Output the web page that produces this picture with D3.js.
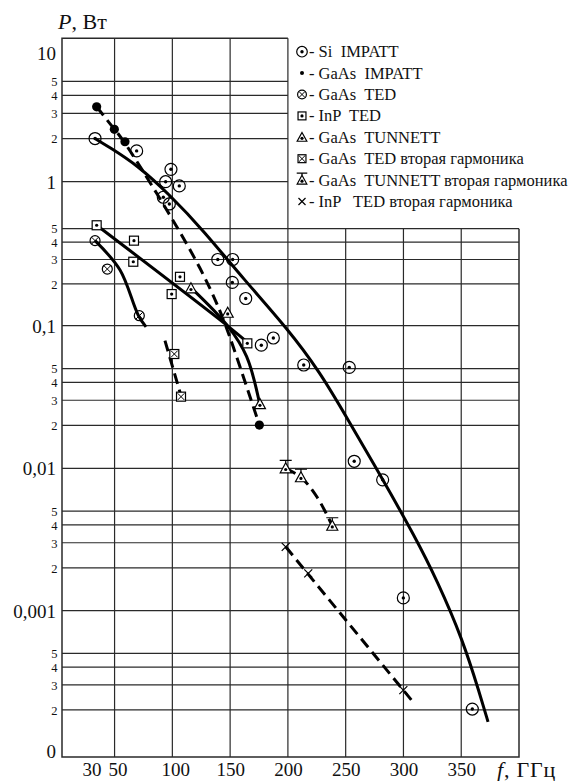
<!DOCTYPE html>
<html><head><meta charset="utf-8">
<script src="https://cdn.jsdelivr.net/npm/d3@7"></script>
<style>
html,body{margin:0;padding:0;background:#fff;}
svg{display:block;}
</style></head><body>
<svg id="chart" width="574" height="781"></svg>
<script>
// ---------- data ----------
const xTicks = [30, 50, 100, 150, 200, 250, 300, 350];
const xGrid = [50, 100, 150, 200, 250, 300, 350];
const yMin = 9.33e-5;
const yTicks = [10,5,4,3,2,1,0.5,0.4,0.3,0.2,0.1,0.05,0.04,0.03,0.02,0.01,0.005,0.004,0.003,0.002,0.001,0.0005,0.0004,0.0003,0.0002,yMin];
const yTickLabels = ["10","5","4","3","2","1","5","4","3","2","0,1","5","4","3","2","0,01","5","4","3","2","0,001","5","4","3","2","0"];
const yMajorLabels = ["10","1","0,1","0,01","0,001","0"];

const siImpatt = [[33.1,2.0],[69.1,1.64],[98.8,1.22],[94.2,1.0],[106,0.94],[92.2,0.795],[97.4,0.72],[139.3,0.3],[152.2,0.3],[151.9,0.205],[163.5,0.157],[177,0.073],[187.4,0.082],[213.7,0.053],[253.1,0.051],[257.4,0.0112],[282,0.0083],[299.9,0.00123],[359.6,0.000203]];
const siImpattFit = [[33.1,2.0],[45,1.75],[70,1.3],[98,0.82],[126.5,0.49],[162,0.215],[199.2,0.0964],[227.8,0.0473],[251.2,0.0225],[282.3,0.0083],[310,0.0033],[329,0.00164],[351.5,0.00062],[366,0.00026],[373.2,0.000165]];
const gaasImpatt = [[34.5,3.33],[49.8,2.32],[59,1.9],[175.3,0.0201]];
const gaasImpattFit = [[34.5,3.33],[49.8,2.32],[59,1.9],[100.8,0.568],[125.4,0.252],[141.2,0.13],[151.4,0.0772],[170.1,0.027],[175.3,0.0201]];
const gaasTed = [[33.1,0.41],[43.7,0.256],[71.4,0.118]];
const gaasTedFit = [[33.1,0.41],[54.7,0.252],[70.5,0.119],[77.2,0.098]];
const inpTed = [[34.5,0.526],[66.8,0.41],[66.2,0.289],[106.6,0.225],[99.4,0.169],[164.9,0.0752]];
const inpTedFit = [[34.5,0.526],[147,0.101],[164.3,0.0772]];
const gaasTunnett = [[116.1,0.186],[147.9,0.124],[175.8,0.0282]];
const gaasTunnettFit = [[116.7,0.186],[148.4,0.0984],[164.3,0.0606],[175.8,0.0278]];
const gaasTed2 = [[101.7,0.0633],[107.5,0.0318]];
const gaasTed2Fit = [[93.6,0.0785],[109,0.0293]];
const gaasTunnett2 = [[198.1,0.01],[211.3,0.00865],[238.4,0.00395]];
const gaasTunnett2Fit = [[198.1,0.01],[211.3,0.00865],[225.2,0.00629],[238.4,0.00395]];
const inpTed2 = [[198.1,0.00281],[217.6,0.00183],[299.9,0.000276]];
const inpTed2Fit = [[198.1,0.00281],[310,0.000219]];

const legendLabels = ["- Si  IMPATT","- GaAs  IMPATT","- GaAs  TED","- InP  TED","- GaAs  TUNNETT","- GaAs  TED вторая гармоника","- GaAs  TUNNETT вторая гармоника","- InP   TED вторая гармоника"];
const legendSymbols = ["circDot","dot","circX","sqDot","tri","sqX","triBar","cross"];

const FONT = "Liberation Serif";

// ---------- scales ----------
const x = d3.scaleLinear().domain([4.5, 400]).range([62, 519]);
const y = d3.scaleLog()
  .domain([yMin, 0.001, 0.01, 0.1, 0.5, 1, 10])
  .range([757, 610.7, 468.3, 325.7, 228.7, 181.7, 38.3]);

const svg = d3.select("#chart").attr("font-family", FONT);
const X0 = x.range()[0], X1 = x.range()[1];
const Ytop = y(10), Ybot = y(yMin), Ymid = y(0.5), Xmid = x(200);

// ---------- grid ----------
const grid = svg.append("g").attr("stroke", "#2a2a2a").attr("stroke-width", 1.2).attr("fill", "none");
xGrid.forEach(v => {
  grid.append("line").attr("x1", x(v)).attr("x2", x(v))
    .attr("y1", v <= 200 ? Ytop : Ymid).attr("y2", Ybot);
});
yTicks.filter(v => v !== 10 && v !== yMin).forEach(v => {
  grid.append("line").attr("y1", y(v)).attr("y2", y(v))
    .attr("x1", X0).attr("x2", v > 0.5 ? Xmid : X1);
});
grid.append("path").attr("stroke-width", 1.5)
  .attr("d", `M${Xmid},${Ytop}H${X0}V${Ybot}H${X1}V${Ymid}`);

// ---------- axes ----------
const yAxis = d3.axisLeft(y).tickValues(yTicks).tickSize(0).tickPadding(6)
  .tickFormat((d, i) => yTickLabels[i]);
const gy = svg.append("g").attr("transform", `translate(${X0},0)`).call(yAxis);
gy.select(".domain").remove();
gy.attr("font-family", FONT).attr("font-size", null);
gy.selectAll("text").each(function(d, i) {
  const lab = yTickLabels[i];
  const major = yMajorLabels.includes(lab);
  const t = d3.select(this);
  t.attr("font-family", FONT).attr("font-size", major ? 19 : 12.5).attr("fill", "#111").attr("dy", "0.34em");
  if (lab === "10") t.attr("dy", "1.12em");
  if (lab === "0") t.attr("dy", "0.05em");
  if (!major) t.attr("x", -4.5);
});

const xAxis = d3.axisBottom(x).tickValues(xTicks).tickSize(0).tickPadding(6);
const gx = svg.append("g").attr("transform", `translate(0,${Ybot})`).call(xAxis);
gx.select(".domain").remove();
gx.attr("font-family", FONT).attr("font-size", null);
gx.selectAll("text").attr("font-family", FONT).attr("font-size", 19).attr("fill", "#111")
  .attr("dx", d => (d === 50 || d === 100) ? 3 : 0);

// axis titles
const pt = svg.append("text").attr("x", 58).attr("y", 29).attr("font-size", 22).attr("font-family", FONT).attr("fill", "#111");
pt.append("tspan").attr("font-style", "italic").text("P");
pt.append("tspan").text(", Вт");
const ft = svg.append("text").attr("x", 497).attr("y", 777).attr("font-size", 22).attr("font-family", FONT)
  .attr("fill", "#111").attr("letter-spacing", 0.8);
ft.append("tspan").attr("font-style", "italic").text("f");
ft.append("tspan").text(", ГГц");

// ---------- lines ----------
const lineSmooth = d3.line().x(d => x(d[0])).y(d => y(d[1])).curve(d3.curveBasis);
const line = d3.line().x(d => x(d[0])).y(d => y(d[1])).curve(d3.curveCatmullRom.alpha(0.5));
const lines = svg.append("g").attr("fill", "none").attr("stroke", "#000").attr("stroke-width", 3);
lines.append("path").attr("d", lineSmooth(siImpattFit));
[gaasTedFit, inpTedFit, gaasTunnettFit].forEach(s =>
  lines.append("path").attr("d", line(s)));
lines.append("path").attr("d", lineSmooth(gaasImpattFit)).attr("stroke-dasharray", "11,6");
[gaasTed2Fit, gaasTunnett2Fit, inpTed2Fit].forEach(s =>
  lines.append("path").attr("d", line(s)).attr("stroke-dasharray", "11,6"));

// ---------- symbols ----------
function sym(g, type, cx, cy, k) {
  const s = g.append("g").attr("transform", `translate(${cx},${cy})`)
    .attr("stroke", "#000").attr("stroke-width", 1.2).attr("fill", "none");
  const dot = r => s.append("circle").attr("r", r).attr("fill", "#000").attr("stroke", "none");
  switch (type) {
    case "circDot":
      s.append("circle").attr("r", 6 * k); dot(1.7); break;
    case "dot":
      dot(k < 1 ? 2 : 4.6); break;
    case "circX": {
      const r = 5 * k, a = r * 0.68;
      s.append("circle").attr("r", r);
      s.append("path").attr("stroke-width", 1).attr("d", `M${-a},${-a}L${a},${a}M${-a},${a}L${a},${-a}`);
      break; }
    case "sqDot": {
      const h = 4.5 * k;
      s.append("rect").attr("x", -h).attr("y", -h).attr("width", 2 * h).attr("height", 2 * h).attr("fill", "#fff");
      dot(1.6); break; }
    case "sqX": {
      const h = 4.5 * k, a = h * 0.75;
      s.append("rect").attr("x", -h).attr("y", -h).attr("width", 2 * h).attr("height", 2 * h).attr("fill", "#fff");
      s.append("path").attr("stroke-width", 1).attr("d", `M${-a},${-a}L${a},${a}M${-a},${a}L${a},${-a}`);
      break; }
    case "tri": case "triBar": {
      const w = 5.5 * k, t = 5.5 * k, b = 4.5 * k;
      s.append("path").attr("fill", "#fff").attr("d", `M0,${-t}L${w},${b}L${-w},${b}Z`);
      dot(1.6).attr("cy", 1.2 * k);
      if (type === "triBar") {
        s.append("path").attr("d", `M${-6 * k},${-t - 2.5 * k}H${6 * k}M0,${-t - 2.5 * k}V${-t}`);
      }
      break; }
    case "cross": {
      const a = 4 * k;
      s.append("path").attr("d", `M${-a},${-a}L${a},${a}M${-a},${a}L${a},${-a}`);
      break; }
  }
}
const pts = svg.append("g");
const series = [[siImpatt,"circDot"],[gaasImpatt,"dot"],[gaasTed,"circX"],[inpTed,"sqDot"],
  [gaasTunnett,"tri"],[gaasTed2,"sqX"],[gaasTunnett2,"triBar"],[inpTed2,"cross"]];
series.forEach(([data, type]) => data.forEach(d => sym(pts, type, x(d[0]), y(d[1]), 1)));

// ---------- legend ----------
const lg = svg.append("g");
legendLabels.forEach((lab, i) => {
  const cy = 51.7 + i * 21.4;
  sym(lg, legendSymbols[i], 302, cy, 0.88);
  lg.append("text").attr("x", 309).attr("y", cy + 5.5).attr("font-size", 16.5)
    .attr("font-family", FONT).attr("fill", "#111")
    .attr("xml:space", "preserve").style("white-space", "pre").text(lab);
});
</script>
</body></html>
